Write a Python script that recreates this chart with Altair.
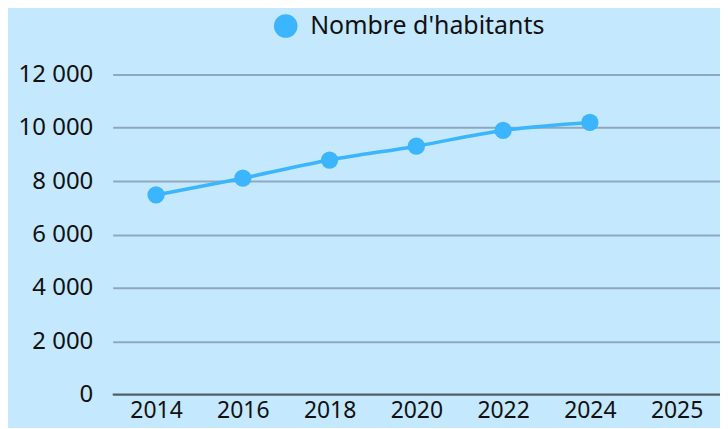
import altair as alt
import pandas as pd

years = ["2014", "2016", "2018", "2020", "2022", "2024", "2025"]
habitants = [7480, 8110, 8790, 9310, 9900, 10200, None]
series = ["Nombre d'habitants"] * len(years)

df = pd.DataFrame({"annee": years, "habitants": habitants, "serie": series})

FONT = "Noto Sans"
BLUE = "#3BB5FE"

x = alt.X("annee:O", sort=years,
          scale=alt.Scale(type="point", domain=years, padding=0.5),
          axis=alt.Axis(title=None, labelAngle=0, labelFontSize=23, labelColor="#111111",
                        labelFont=FONT, ticks=False, domain=False, grid=False, labelPadding=5))
y = alt.Y("habitants:Q",
          scale=alt.Scale(domain=[0, 12000]),
          axis=alt.Axis(title=None, values=[0, 2000, 4000, 6000, 8000, 10000, 12000],
                        labelExpr="replace(format(datum.value, ','), ',', ' ')",
                        labelFontSize=24, labelColor="#111111", labelFont=FONT,
                        ticks=False, domain=False, gridColor="#8FA8BD", gridWidth=2,
                        labelPadding=20))

color = alt.Color("serie:N", scale=alt.Scale(range=[BLUE]),
                  legend=alt.Legend(title=None, orient="none", legendX=161, legendY=-61,
                                    symbolType="circle", symbolSize=560, symbolFillColor=BLUE,
                                    symbolStrokeWidth=0, labelFontSize=25, labelFont=FONT,
                                    labelColor="#111111", padding=0, labelOffset=12,
                                    labelLimit=0))

base = alt.Chart(df)
line = base.mark_line(interpolate="monotone", strokeWidth=3.5, color=BLUE).encode(x=x, y=y)
pts = base.mark_point(filled=True, opacity=1, size=300).encode(x=x, y=y, color=color)
zero = alt.Chart(pd.DataFrame({"z": [0]})).mark_rule(color="#505E6B", strokeWidth=2).encode(y="z:Q")

chart = (line + pts + zero).properties(
    width=609, height=321,
    background="#C4E8FE",
    autosize=alt.AutoSizeParams(type="none"),
    padding={"left": 105, "top": 66, "right": 0, "bottom": 33},
).configure_view(stroke=None)

chart.save("out.html", embed_options={"renderer": "svg", "actions": False})
